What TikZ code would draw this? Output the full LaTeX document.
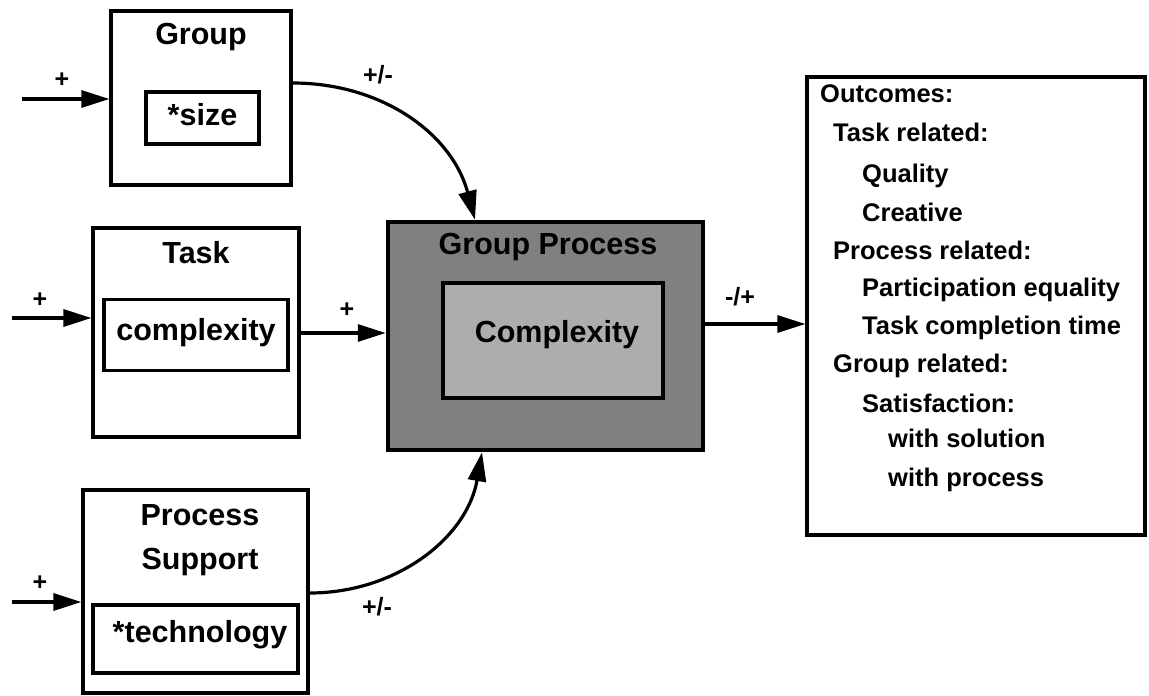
\documentclass[tikz,border=0pt]{standalone}
\usepackage{fontspec}
\setmainfont{Liberation Sans}
\usetikzlibrary{arrows.meta}
\begin{document}
\begin{tikzpicture}[x=1pt,y=-1pt,
  box/.style={draw,line width=3.2pt,inner sep=0pt},
  big/.style={font=\bfseries\fontsize{30.5}{33}\selectfont,inner sep=0pt},
  small/.style={font=\bfseries\fontsize{25.5}{28}\selectfont,inner sep=0pt,anchor=base west},
  sign/.style={font=\bfseries\fontsize{25}{28}\selectfont,inner sep=0pt},
  arr/.style={line width=3.2pt,-{Triangle[length=28pt,width=17pt]}},
  carr/.style={line width=3.2pt,-{Triangle[length=29pt,width=18pt]}}]
\useasboundingbox (0,0) rectangle (1149,696);
% Group
\node[box,minimum width=180pt,minimum height=174pt] (g) at (201,98) {};
\node[big] (gt) at (201,37) {Group};
\node[box,minimum width=113pt,minimum height=52pt] (gs) at (202.5,118) {};
\node[big] (gst) at (202.5,115) {*size};
% Task
\node[box,minimum width=206pt,minimum height=209pt] (t) at (196,332.5) {};
\node[big] (tt) at (196,253) {Task};
\node[box,minimum width=184pt,minimum height=71pt] (tc) at (196,335) {};
\node[big] (tct) at (196,333) {complexity};
% Process support
\node[box,minimum width=225pt,minimum height=203pt] (ps) at (195.5,591.5) {};
\node[big] (pst1) at (200,515) {Process};
\node[big] (pst2) at (200,562) {Support};
\node[box,minimum width=205pt,minimum height=68pt] (pt) at (195.5,639) {};
\node[big] (ptt) at (200,635) {*technology};
% Group process
\node[draw,line width=4.5pt,fill=black!50,minimum width=315pt,minimum height=228pt,inner sep=0pt] (gp) at (545.5,336) {};
\node[big] (gpt) at (548,247) {Group Process};
\node[draw,line width=3.4pt,fill=black!32,minimum width=220pt,minimum height=115pt,inner sep=0pt] (gc) at (553,340.5) {};
\node[big] (gct) at (557,335) {Complexity};
% Outcomes
\node[box,minimum width=338pt,minimum height=458pt] (oc) at (976,306) {};
\node[small] (o1) at (820,102) {Outcomes:};
\node[small] (o2) at (833,141) {Task related:};
\node[small] (o3) at (862,182) {Quality};
\node[small] (o4) at (862,221) {Creative};
\node[small] (o5) at (833,259) {Process related:};
\node[small] (o6) at (862,296) {Participation equality};
\node[small] (o7) at (862,334) {Task completion time};
\node[small] (o8) at (833,372) {Group related:};
\node[small] (o9) at (862,412) {Satisfaction:};
\node[small] (o10) at (888,447) {with solution};
\node[small] (o11) at (888,486) {with process};
% input arrows
\coordinate (gin) at (22,99);
\coordinate (tin) at (12,318);
\coordinate (pin) at (12,602);
\draw[arr] (gin) -- (gin -| g.west);
\draw[arr] (tin) -- (tin -| t.west);
\draw[arr] (pin) -- (pin -| ps.west);
\node[sign] (s1) at (62,80) {+};
\node[sign] (s2) at (40,300) {+};
\node[sign] (s3) at (40,583) {+};
% task -> gp
\coordinate (tout) at (0,333);
\draw[arr] (tout -| t.east) -- (tout -| gp.west);
\node[sign] (s4) at (347,310) {+};
% gp -> outcomes
\coordinate (gout) at (0,324);
\draw[arr] (gout -| gp.east) -- (gout -| oc.west);
\node[sign] (s5) at (740,297) {-/+};
% curves
\coordinate (gcs) at (0,83);
\coordinate (gce) at (475,0);
\draw[carr] (gcs -| g.east) to[out=0,in=105] (gce |- gp.north);
\node[sign] (s6) at (378,75) {+/-};
\coordinate (pcs) at (0,593);
\coordinate (pce) at (482,0);
\draw[carr] (pcs -| ps.east) to[out=0,in=-100] (pce |- gp.south);
\node[sign] (s7) at (377,607) {+/-};
\end{tikzpicture}
\end{document}
